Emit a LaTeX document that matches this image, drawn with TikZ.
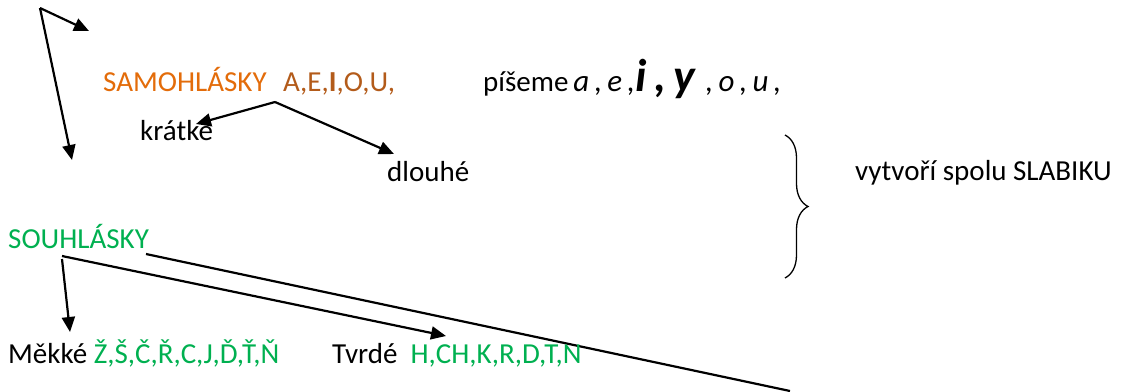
\documentclass[tikz,border=0pt]{standalone}
\usepackage{fontspec}
\setmainfont{Carlito}
\usepackage{xcolor}
\usetikzlibrary{arrows.meta,calc}
\usetikzlibrary{positioning,decorations.pathreplacing}

\definecolor{samoOrange}{HTML}{E36C0A}
\definecolor{vowelBrown}{HTML}{B35B1A}
\definecolor{souhGreen}{HTML}{00B050}

\begin{document}
\begin{tikzpicture}[
    x=1pt, y=-1pt,
    arr/.style={-{Triangle[length=15pt,width=13pt]}, line width=2.2pt, line join=round},
    plain/.style={line width=2.2pt},
    word/.style={anchor=base west, inner sep=0pt, font=\fontsize{29}{34}\selectfont},
    hand/.style={font=\fontsize{26}{30}\selectfont\itshape}
]

% okraje obrazku
\path[use as bounding box] (0,0) rectangle (1122,391);

% horni sipky
\coordinate (apex) at (40,8);
\coordinate (apexR) at (89,31);
\coordinate (apexD) at (72,160);
\draw[arr] (apex) -- (apexR);
\draw[arr] (apex) -- (apexD);

% samohlasky
\node[word, text=samoOrange] (samo) at (103,91) {SAMOHLÁSKY};
\node[word, text=vowelBrown] (vowels) at (283,91) {A,E,\textbf{I},O,U,};
\node[word] (piseme) at (483,91) {píšeme\hspace{5pt}{\fontsize{31}{34}\selectfont\itshape a\,,\,e\,,}{\fontsize{46}{46}\selectfont\bfseries\itshape i\,,\,y}{\fontsize{31}{34}\selectfont\itshape\,\,,\,o\,,\,u\,,}};

% kratke / dlouhe
\node[word] (kratke) at (140,140) {krátke};
\node[word] (dlouhe) at (387,181) {dlouhé};
\coordinate (split) at (275,102);
\coordinate (toKratke) at (196,124);
\coordinate (toDlouhe) at (394,154);
\draw[arr] (split) -- (toKratke);
\draw[arr] (split) -- (toDlouhe);

% slozena zavorka
\coordinate (braceTop) at (785,135);
\coordinate (braceBot) at (785,278);
\draw[line width=1.3pt, decorate, decoration={brace, amplitude=23pt}]
      (braceTop) -- (braceBot);
\node[word] (slabika) at (855,180) {vytvoří spolu SLABIKU};

% souhlasky
\node[word, text=souhGreen] (souh) at (8,248) {SOUHLÁSKY};
\coordinate (souhA) at (62,259);
\coordinate (souhB) at (62,256);
\coordinate (souhC) at (146,254);
\coordinate (toMekke) at (70,332);
\coordinate (toTvrde) at (446,336);
\coordinate (farEnd) at (790,391);
\draw[arr] (souhA) -- (toMekke);
\draw[arr] (souhB) -- (toTvrde);
\draw[plain] (souhC) -- (farEnd);

% mekke a tvrde
\node[word] (mekke) at (8,363) {Měkké \textcolor{souhGreen}{Ž,Š,Č,Ř,C,J,Ď,Ť,Ň}};
\node[word] (tvrde) at (332,363) {Tvrdé\ \ \textcolor{souhGreen}{H,CH,K,R,D,T,N}};

\end{tikzpicture}
\end{document}
